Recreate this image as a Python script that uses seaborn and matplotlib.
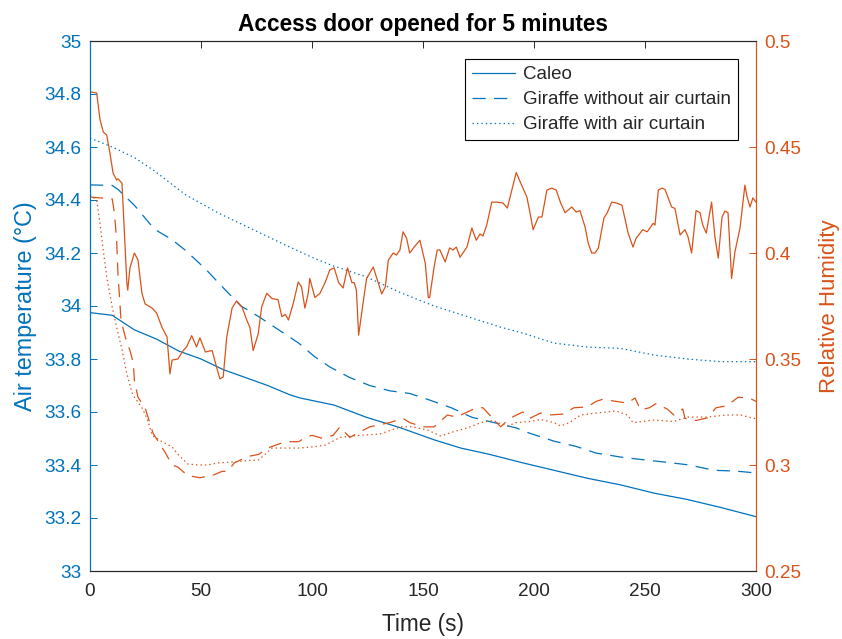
import matplotlib
matplotlib.use("Agg")
import matplotlib.pyplot as plt
import seaborn as sns
import pandas as pd

# ---- Air temperature (degC) ----
caleo_temp_t = [0, 10, 20, 30, 40, 50, 60, 70, 80, 90, 94.6, 110, 124.5, 140, 155, 167, 180,
                194, 209, 224, 239, 254, 269, 284, 300]
caleo_temp = [33.975, 33.965, 33.91, 33.875, 33.83, 33.80, 33.76, 33.73, 33.70, 33.665, 33.653,
              33.626, 33.58, 33.54, 33.495, 33.464, 33.44, 33.41, 33.38, 33.35, 33.325, 33.294,
              33.27, 33.24, 33.205]

nocurtain_temp_t = [0, 10, 12.6, 20, 29, 37, 43, 52, 61, 68, 76, 85, 94, 101, 108, 117, 126, 135,
                    144, 153, 163, 172, 182, 192, 198, 209, 219, 228, 239, 249, 260, 270, 281,
                    291, 300]
nocurtain_temp = [34.457, 34.455, 34.44, 34.38, 34.29, 34.25, 34.21, 34.14, 34.06, 34.0, 33.96,
                  33.91, 33.86, 33.81, 33.77, 33.73, 33.70, 33.68, 33.67, 33.645, 33.615, 33.58,
                  33.56, 33.54, 33.52, 33.49, 33.47, 33.445, 33.43, 33.42, 33.41, 33.40, 33.38,
                  33.377, 33.37]

curtain_temp_t = [0, 10, 20, 29, 43, 58, 73, 88, 101, 110, 124.5, 140, 155, 170, 185, 194, 209,
                  224, 239, 254, 269, 284, 300]
curtain_temp = [34.634, 34.60, 34.56, 34.51, 34.42, 34.35, 34.29, 34.23, 34.18, 34.15, 34.11,
                34.05, 34.0, 33.96, 33.92, 33.90, 33.86, 33.845, 33.84, 33.815, 33.80, 33.79,
                33.79]

# ---- Relative humidity ----
caleo_rh_t = [0, 3, 4.5, 6, 7.5, 9, 10.4, 12, 12.6, 14.4, 15.4, 16.6, 17, 18, 20, 21.6, 23.4,
              24.8, 28, 30, 32.4, 34.7, 36, 37, 39.6, 42, 43.5, 45.8, 48, 49.5, 52, 55, 57,
              58.5, 60, 61.6, 64, 66, 68.5, 70.6, 72, 73.5, 75.8, 77.3, 79.6, 82, 84.7, 86.4,
              88, 89.4, 91.6, 93.8, 95.3, 96.8, 98.3, 99, 101.3, 103.6, 106, 108, 110, 112,
              114, 116, 118, 119, 120, 121, 123, 124.6, 127.6, 129, 131.4, 133, 134.4, 136.6,
              138, 139.6, 141, 142.6, 144, 146.4, 148.6, 151, 152.4, 153, 155, 156.4, 157.6,
              160, 162, 163.5, 165, 166.7, 169.8, 172, 174, 175.7, 177, 178.7, 181, 183.2,
              186, 188, 190, 192, 194, 196.8, 198, 199.6, 202, 203.6, 205.8, 208, 210, 212,
              214, 217, 219, 220.7, 223, 224.4, 226, 227.5, 229, 231.5, 233, 235, 237, 239.6,
              242.4, 244.6, 246, 249, 251, 253.7, 254.5, 256, 257.6, 259, 262, 263.5, 265.8,
              268, 269.4, 271, 273, 274.8, 276, 277.6, 280, 281.5, 283, 284.7, 286, 287.4,
              289, 290.5, 292.8, 295, 296, 297.3, 298.6, 300]
caleo_rh = [0.476, 0.4755, 0.463, 0.457, 0.4557, 0.447, 0.4377, 0.4344, 0.435, 0.433, 0.412,
            0.386, 0.3825, 0.393, 0.40, 0.3967, 0.381, 0.376, 0.374, 0.3717, 0.365, 0.3604,
            0.343, 0.3495, 0.350, 0.354, 0.3557, 0.361, 0.3557, 0.36, 0.3533, 0.354, 0.3462,
            0.3406, 0.3415, 0.3604, 0.374, 0.3774, 0.3745, 0.3684, 0.365, 0.354, 0.362,
            0.3745, 0.381, 0.3785, 0.378, 0.37, 0.371, 0.3684, 0.3764, 0.3863, 0.384, 0.374,
            0.381, 0.388, 0.379, 0.381, 0.3863, 0.392, 0.393, 0.386, 0.3835, 0.393, 0.386,
            0.386, 0.3825, 0.3613, 0.3764, 0.388, 0.3934, 0.3887, 0.3807, 0.384, 0.3967,
            0.40, 0.399, 0.4014, 0.41, 0.407, 0.40, 0.4033, 0.406, 0.3953, 0.379, 0.379,
            0.3934, 0.4014, 0.4014, 0.3958, 0.4024, 0.4014, 0.4028, 0.398, 0.4028, 0.4118,
            0.406, 0.409, 0.408, 0.4132, 0.424, 0.424, 0.4236, 0.4212, 0.4297, 0.438, 0.433,
            0.4264, 0.42, 0.411, 0.417, 0.417, 0.4297, 0.4306, 0.4297, 0.4236, 0.419, 0.4217,
            0.4193, 0.42, 0.4123, 0.4047, 0.40, 0.40, 0.4024, 0.4165, 0.419, 0.424, 0.4236,
            0.4226, 0.4094, 0.4028, 0.407, 0.411, 0.41, 0.414, 0.4132, 0.4297, 0.4306, 0.43,
            0.4217, 0.421, 0.4085, 0.411, 0.4075, 0.40, 0.42, 0.419, 0.4132, 0.4094, 0.424,
            0.4075, 0.3976, 0.417, 0.4198, 0.419, 0.388, 0.4005, 0.4118, 0.432, 0.4264,
            0.4217, 0.426, 0.424]

nocurtain_rh_t = [0, 10, 11, 12, 12.6, 14, 16, 18, 19.5, 20, 21.6, 24.8, 28.4, 33.8, 37, 39.6,
                  44, 49.5, 55, 59.5, 62, 65, 71, 76, 80, 88, 94, 97, 100, 105, 109.5, 112.6,
                  117, 121.6, 126, 130.6, 135, 141, 144, 150, 155, 161, 165, 170, 174, 177,
                  185, 189, 195, 198, 203, 207, 213, 218, 224, 228, 231, 237, 242, 245.5, 248,
                  252, 255, 260, 263, 267, 268, 273, 278, 282, 287, 292, 297, 300]
nocurtain_rh = [0.4264, 0.4255, 0.419, 0.406, 0.39, 0.368, 0.36, 0.354, 0.348, 0.34, 0.332,
                0.327, 0.315, 0.306, 0.30, 0.299, 0.295, 0.294, 0.295, 0.297, 0.297, 0.301,
                0.304, 0.305, 0.308, 0.311, 0.311, 0.313, 0.314, 0.3125, 0.314, 0.318, 0.313,
                0.3156, 0.318, 0.319, 0.32, 0.322, 0.32, 0.318, 0.318, 0.3236, 0.3226, 0.325,
                0.327, 0.327, 0.318, 0.322, 0.325, 0.322, 0.3245, 0.3236, 0.324, 0.327,
                0.3274, 0.33, 0.331, 0.33, 0.3292, 0.3316, 0.326, 0.327, 0.329, 0.3264,
                0.3236, 0.3264, 0.322, 0.321, 0.3222, 0.327, 0.328, 0.332, 0.3316, 0.330]

curtain_rh_t = [0, 3, 4.5, 6, 7.5, 10, 12, 14.5, 16.6, 19, 20, 23.4, 25.7, 28, 32.4, 37, 39.6,
                44, 48.7, 53, 57.6, 64, 70, 76, 82, 88, 94, 100, 106, 112.6, 121.6, 130.6, 140,
                145, 152, 158, 163.5, 170, 176, 181.5, 188, 192, 198, 203, 209, 212, 216, 221,
                228, 237, 242, 244.6, 254, 263, 269, 278, 287, 293, 299, 300]
curtain_rh = [0.4274, 0.425, 0.414, 0.401, 0.389, 0.3745, 0.365, 0.354, 0.343, 0.334, 0.332,
              0.327, 0.322, 0.314, 0.311, 0.3085, 0.305, 0.3005, 0.30, 0.30, 0.301, 0.3014,
              0.302, 0.3024, 0.308, 0.308, 0.308, 0.3085, 0.3094, 0.313, 0.314, 0.3146,
              0.318, 0.318, 0.3165, 0.3137, 0.3156, 0.3175, 0.320, 0.321, 0.3184, 0.32,
              0.3205, 0.3215, 0.320, 0.3184, 0.32, 0.3236, 0.3245, 0.3255, 0.3236, 0.32,
              0.3212, 0.3205, 0.3226, 0.3226, 0.3236, 0.3236, 0.322, 0.322]

series_labels = ["Caleo", "Giraffe without air curtain", "Giraffe with air curtain"]
x_ticks = [0, 50, 100, 150, 200, 250, 300]
temp_ticks = [33, 33.2, 33.4, 33.6, 33.8, 34, 34.2, 34.4, 34.6, 34.8, 35]
rh_ticks = [0.25, 0.3, 0.35, 0.4, 0.45, 0.5]

BLUE = "#0072BD"
ORANGE = "#D95319"
DARK = "#262626"

sns.set_style("white")
plt.rcParams["font.family"] = ["Liberation Sans", "DejaVu Sans"]
plt.rcParams["lines.scale_dashes"] = False

fig = plt.figure(figsize=(8.42, 6.39), dpi=100)
ax = fig.add_axes([90 / 842, 1 - 571 / 639, 666 / 842, 530 / 639])
ax2 = ax.twinx()

DASHED = (0, (9.5, 6.0))
DOTTED = (0, (1.0, 2.2))
styles = ["-", DASHED, DOTTED]
lw = 0.9

temp_sets = [(caleo_temp_t, caleo_temp), (nocurtain_temp_t, nocurtain_temp),
             (curtain_temp_t, curtain_temp)]
rh_sets = [(caleo_rh_t, caleo_rh), (nocurtain_rh_t, nocurtain_rh), (curtain_rh_t, curtain_rh)]

for (t, v), ls, name in zip(temp_sets, styles, series_labels):
    df = pd.DataFrame({"t": t, "v": v})
    sns.lineplot(data=df, x="t", y="v", ax=ax, color=BLUE, linestyle=ls, linewidth=lw,
                 label=name, legend=False)

for (t, v), ls in zip(rh_sets, styles):
    df = pd.DataFrame({"t": t, "v": v})
    sns.lineplot(data=df, x="t", y="v", ax=ax2, color=ORANGE, linestyle=ls, linewidth=lw,
                 legend=False)

ax.set_xlim(0, 300)
ax.set_ylim(33, 35)
ax2.set_ylim(0.25, 0.5)
ax.set_xticks(x_ticks)
ax.set_xticklabels([str(v) for v in x_ticks])
ax.set_yticks(temp_ticks)
ax.set_yticklabels([f"{v:g}" for v in temp_ticks])
ax2.set_yticks(rh_ticks)
ax2.set_yticklabels([f"{v:g}" for v in rh_ticks])

tick_fs = 13.7
ax.tick_params(axis="x", direction="in", length=5, width=0.7, colors=DARK,
               labelsize=tick_fs, top=True, pad=9)
ax.tick_params(axis="y", direction="in", length=5, width=0.7, colors=BLUE,
               labelsize=tick_fs, pad=6, right=False)
ax2.tick_params(axis="y", direction="in", length=5, width=0.7, colors=ORANGE,
                labelsize=tick_fs, pad=6)

for a in (ax, ax2):
    for s in a.spines.values():
        s.set_linewidth(0.8)
    a.spines["top"].set_color(DARK)
    a.spines["bottom"].set_color(DARK)
    a.spines["left"].set_color(BLUE)
    a.spines["right"].set_color(ORANGE)

ax.set_xlabel("Time (s)", fontsize=16.3, color=DARK, labelpad=9)
ax.set_ylabel("Air temperature (°C)", fontsize=16.8, color=BLUE, labelpad=5.5)
ax2.set_ylabel("Relative Humidity", fontsize=16, color=ORANGE, labelpad=13)
ax.set_title("Access door opened for 5 minutes", fontsize=16.3, fontweight="bold",
             color="black", pad=7)

handles = ax.get_lines()[:3]
leg = ax2.legend(handles, series_labels, loc="upper right", bbox_to_anchor=(0.973, 0.966),
                 borderaxespad=0, fontsize=13.5, frameon=True, fancybox=False,
                 edgecolor="black", framealpha=1, handlelength=2.3, handletextpad=0.4,
                 labelspacing=0.42, borderpad=0.38)
leg.get_frame().set_linewidth(0.8)

fig.savefig("out.png", dpi=100)
